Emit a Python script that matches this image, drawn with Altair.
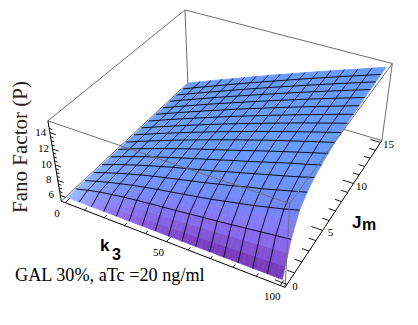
import numpy as np
import pandas as pd
import altair as alt

K3 = [0, 6.25, 12.5, 18.75, 25, 31.25, 37.5, 43.75, 50, 56.25, 62.5, 68.75, 75, 81.25, 87.5, 93.75, 100]
JM = [0, .9375, 1.875, 2.8125, 3.75, 4.6875, 5.625, 6.5625, 7.5, 8.4375, 9.375, 10.3125, 11.25, 12.1875, 13.125, 14.0625, 15]
# Fano factor read at mesh nodes: one row per Jm, one column per k3
FANO = [
 [5.60]*17,
 [5.60,6.03,6.40,6.69,6.95,7.17,7.37,7.55,7.74,7.94,8.13,8.32,8.53,8.75,8.96,9.18,9.38],
 [5.60,6.11,6.57,6.98,7.37,7.72,8.05,8.34,8.65,8.94,9.26,9.63,9.99,10.36,10.78,11.21,11.70],
 [5.60,6.16,6.68,7.17,7.63,8.05,8.45,8.82,9.21,9.59,10.00,10.41,10.87,11.27,11.73,12.20,12.67],
 [5.60,6.19,6.74,7.26,7.76,8.22,8.70,9.11,9.56,9.99,10.46,10.92,11.39,11.84,12.30,12.77,13.29],
 [5.60,6.20,6.77,7.32,7.84,8.36,8.84,9.33,9.81,10.28,10.79,11.24,11.74,12.24,12.74,13.18,13.67],
 [5.60,6.21,6.80,7.37,7.92,8.46,8.98,9.50,9.99,10.49,10.99,11.51,12.03,12.52,13.01,13.49,13.97],
 [5.60,6.22,6.83,7.42,8.01,8.58,9.14,9.69,10.23,10.77,11.29,11.81,12.31,12.80,13.29,13.77,14.24],
 [5.60,6.22,6.83,7.43,8.02,8.60,9.17,9.74,10.29,10.83,11.36,11.89,12.41,12.92,13.42,13.92,14.40],
 [5.60,6.22,6.83,7.44,8.03,8.62,9.20,9.77,10.33,10.88,11.42,11.96,12.49,13.02,13.52,14.03,14.53],
 [5.60,6.22,6.84,7.44,8.04,8.63,9.22,9.79,10.36,10.92,11.47,12.01,12.56,13.09,13.61,14.13,14.65],
 [5.60,6.22,6.84,7.45,8.05,8.65,9.23,9.82,10.39,10.95,11.51,12.06,12.61,13.15,13.68,14.21,14.74],
 [5.60,6.22,6.84,7.45,8.06,8.66,9.25,9.83,10.41,10.98,11.55,12.11,12.66,13.21,13.75,14.28,14.81],
 [5.60,6.23,6.84,7.46,8.06,8.67,9.26,9.85,10.43,11.00,11.58,12.14,12.70,13.25,13.80,14.34,14.88],
 [5.60,6.23,6.85,7.46,8.07,8.67,9.27,9.86,10.45,11.03,11.60,12.17,12.73,13.29,13.84,14.39,14.93],
 [5.60,6.23,6.85,7.46,8.07,8.68,9.28,9.87,10.46,11.04,11.62,12.20,12.76,13.33,13.88,14.43,14.98],
 [5.60,6.23,6.85,7.47,8.08,8.68,9.29,9.88,10.47,11.06,11.64,12.22,12.79,13.36,13.91,14.48,15.03],
]
K3_RANGE = (-2.0, 102.0)
JM_RANGE = (-0.25, 15.25)
Z_RANGE = (5.2, 15.4)
K3_TICKS = [0, 50, 100]
JM_TICKS = [0, 5, 10, 15]
Z_TICKS = [6, 8, 10, 12, 14]
YTITLE = "Fano Factor (P)"
NOTE = "GAL 30%, aTc =20 ng/ml"

# camera calibrated from the eight corners of the plot box
CAMERA = [
 ((0,0,0),(61,201)), ((1,0,0),(285,287)), ((1,1,0),(382,141)), ((0,1,0),(188,83)),
 ((0,0,1),(48,121)), ((1,0,1),(290,204)), ((1,1,1),(392,63)), ((0,1,1),(185,10)),
]
def _bx(k, j, z):
    return (K3_RANGE[0]+k*(K3_RANGE[1]-K3_RANGE[0]), JM_RANGE[0]+j*(JM_RANGE[1]-JM_RANGE[0]), Z_RANGE[0]+z*(Z_RANGE[1]-Z_RANGE[0]))
A, b = [], []
for (u, v, w), (px, py) in CAMERA:
    X, Y, Z = _bx(u, v, w)
    A.append([X,Y,Z,1,0,0,0,0,-px*X,-px*Y,-px*Z]); b.append(px)
    A.append([0,0,0,0,X,Y,Z,1,-py*X,-py*Y,-py*Z]); b.append(py)
sol = np.linalg.lstsq(np.array(A, float), np.array(b, float), rcond=None)[0]
P = np.append(sol, 1.0).reshape(3, 4)
def proj(k, j, z):
    h = P @ np.array([k, j, z, 1.0])
    return float(h[0]/h[2]), float(h[1]/h[2])

Zg = np.array(FANO, float)
ni, nj = Zg.shape
# shading: purple low along the Jm=0 side, lighter at the k3=0, Jm=0 corner
stops_t = [0, .3, .6, .85, 1]
stops_c = np.array([[102,153,255],[118,130,252],[148,108,245],[132,72,205],[120,50,180]], float)
def node_col(i, j):
    k = K3[j]/100.0
    t = np.exp(-JM[i]/1.4)*min(1.0, .5+.75*k)
    c = np.array([np.interp(t, stops_t, stops_c[:, m]) for m in range(3)])
    w = np.exp(-K3[j]/14.0)*np.exp(-JM[i]/4.0)*0.9
    return c*(1-w)+np.array([165,205,255])*w
NC = np.array([[node_col(i, j) for j in range(nj)] for i in range(ni)])

SUB = 3
feats = []
for i in range(ni-2, -1, -1):
    for j in range(nj-1):
        for a in range(SUB):
            for c in range(SUB):
                def pt(u, v):
                    z = (Zg[i,j]*(1-u)*(1-v)+Zg[i,j+1]*(1-u)*v+Zg[i+1,j]*u*(1-v)+Zg[i+1,j+1]*u*v)
                    return list(proj(K3[j]+(K3[j+1]-K3[j])*v, JM[i]+(JM[i+1]-JM[i])*u, z))
                u0, u1, v0, v1 = a/SUB, (a+1)/SUB, c/SUB, (c+1)/SUB
                um, vm = (u0+u1)/2, (v0+v1)/2
                col = NC[i,j]*(1-um)*(1-vm)+NC[i,j+1]*(1-um)*vm+NC[i+1,j]*um*(1-vm)+NC[i+1,j+1]*um*vm
                hexc = "#%02x%02x%02x" % tuple(int(round(x)) for x in col)
                ring = [pt(u0,v0), pt(u0,v1), pt(u1,v1), pt(u1,v0), pt(u0,v0)]
                feats.append({"type":"Feature","properties":{"col":hexc},"geometry":{"type":"Polygon","coordinates":[ring]}})

PROJ = dict(type="identity", scale=1, translate=[-8, -8])

surface = alt.Chart(alt.InlineData(values={"type":"FeatureCollection","features":feats},
        format=alt.DataFormat(type="json", property="features"))).mark_geoshape(strokeWidth=0.6).encode(
    fill=alt.Fill("properties.col:N", scale=None),
    stroke=alt.Stroke("properties.col:N", scale=None),
).project(**PROJ)

def segs(rows):
    out = []
    for n, seq in enumerate(rows):
        for o, (k, j, z) in enumerate(seq):
            x, y = proj(k, j, z)
            out.append({"id": n, "o": o, "x": x, "y": y})
    return pd.DataFrame(out)

def lines(rows, color, width):
    return alt.Chart(segs(rows)).mark_line(color=color, strokeWidth=width, clip=False).encode(
        longitude="x:Q", latitude="y:Q", detail="id:N", order="o:Q").project(**PROJ)

K0, K1 = K3_RANGE; J0, J1 = JM_RANGE; Z0, Z1 = Z_RANGE
back = lines([
    [(K0,J0,Z0),(K0,J1,Z0)], [(K0,J1,Z0),(K1,J1,Z0)], [(K1,J1,Z0),(K1,J1,Z1)], [(K0,J1,Z0),(K0,J1,Z1)],
    [(K0,J0,Z1),(K0,J1,Z1)], [(K0,J1,Z1),(K1,J1,Z1)],
], "#6e6e6e", 1.0)
mesh = lines(
    [[(K3[j], JM[i], Zg[i,j]) for j in range(nj)] for i in range(1, ni-1)] +
    [[(K3[j], JM[i], Zg[i,j]) for i in range(ni)] for j in range(1, nj-1)],
    "#000000", 0.9)
front = lines([
    [(K0,J0,Z1),(K1,J0,Z1)], [(K1,J0,Z1),(K1,J1,Z1)], [(K1,J0,Z0),(K1,J0,Z1)],
], "#6e6e6e", 1.0)
axes = lines([
    [(K0,J0,Z0),(K1,J0,Z0)], [(K1,J0,Z0),(K1,J1,Z0)], [(K0,J0,Z0),(K0,J0,Z1)],
], "#000000", 1.0)
ticks = []
for v in range(0, 101, 10):
    ticks.append([(v,J0,Z0),(v,J0+(0.45 if v%50==0 else 0.25),Z0)])
for v in range(0, 16):
    ticks.append([(K1,v,Z0),(K1-(5 if v%5==0 else 3),v,Z0)])
for v2 in range(12, 30):
    v = v2/2
    ticks.append([(K0,J0,v),(K0+(3 if v2%4==0 else 1.5),J0,v)])
tick_layer = lines(ticks, "#000000", 0.9)

def labels(items, dx, dy):
    rows = [{"x": proj(*p)[0], "y": proj(*p)[1], "t": str(t)} for t, p in items]
    return alt.Chart(pd.DataFrame(rows)).mark_text(font="Liberation Serif", fontSize=11, color="#000000", dx=dx, dy=dy).encode(
        longitude="x:Q", latitude="y:Q", text="t:N").project(**PROJ)

k_lab = labels([(t, (t, J0, Z0)) for t in K3_TICKS], -8, 11)
j_lab = labels([(t, (K1, t, Z0)) for t in JM_TICKS], 8, 3)
z_lab = labels([(t, (K0, J0, t)) for t in Z_TICKS], -9, 0)

def free_text(t, x, y, font, size, weight="normal", angle=0, color="#000000", align="left"):
    return alt.Chart(pd.DataFrame({"x":[x],"y":[y],"t":[t]})).mark_text(font=font, fontSize=size, fontWeight=weight,
        angle=angle, color=color, align=align, baseline="alphabetic").encode(longitude="x:Q", latitude="y:Q", text="t:N").project(**PROJ)

texts = [
    free_text(YTITLE, 27, 147, "Liberation Serif", 21, angle=270, color="#2a2018", align="center"),
    free_text(NOTE, 15, 281, "Liberation Serif", 18.2),
    free_text("k", 100, 251, "Liberation Sans", 17, "bold"),
    free_text("3", 112, 260, "Liberation Sans", 16, "bold"),
    free_text("J", 352, 228, "Liberation Sans", 17, "bold"),
    free_text("m", 362, 230, "Liberation Sans", 16, "bold"),
]

chart = alt.layer(back, surface, mesh, front, axes, tick_layer, k_lab, j_lab, z_lab, *texts).properties(
    width=402, height=309, padding=0, background="white", autosize=alt.AutoSizeParams(type="none")
).configure_view(stroke=None)

chart.save("out.html", embed_options={"renderer": "svg", "actions": False})
